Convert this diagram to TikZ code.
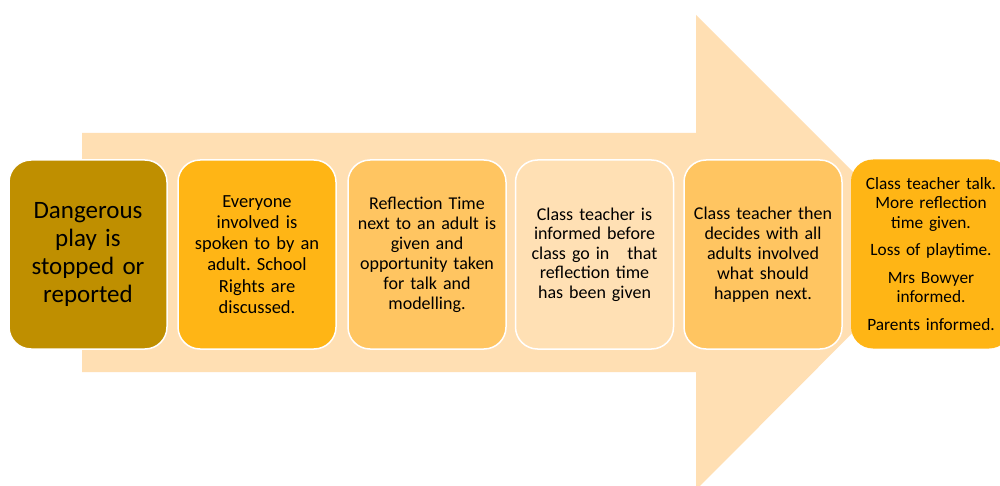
\documentclass[tikz,border=0pt]{standalone}
\usepackage{fontspec}
\setmainfont{Carlito}
\frenchspacing
\definecolor{arrowc}{HTML}{FFDFB3}
\definecolor{c1}{HTML}{BF8F00}
\definecolor{c2}{HTML}{FFB515}
\definecolor{c3}{HTML}{FFC561}
\definecolor{c4}{HTML}{FFE0B4}
\tikzset{
  stepbox/.style={draw=white, line width=1.5pt, rounded corners=22pt, minimum width=158pt, minimum height=189pt, align=center, text width=156pt, inner sep=0pt},
}
\begin{document}
\begin{tikzpicture}[x=1pt,y=-1pt]
\useasboundingbox (0,0) rectangle (1000,486);
\clip (0,0) rectangle (1000,486);
\fill[white] (0,0) rectangle (1000,486);
% big arrow
\fill[arrowc] (82,133) -- (696,133) -- (696,15) -- (933,252) -- (696,490) -- (696,372) -- (82,372) -- cycle;
\node[stepbox, fill=c1, font=\fontsize{25}{27.7}\selectfont] (b1) at (88,254.5) {Dangerous\\play is\\stopped or\\reported};
\node[stepbox, fill=c2, font=\fontsize{18.5}{21.2}\selectfont] (b2) at (257,254.5) {Everyone\\involved is\\spoken to by an\\adult. School\\Rights are\\discussed.};
\node[stepbox, fill=c3, font=\fontsize{18}{20}\selectfont] (b3) at (427,254.5) {Reflection Time\\next to an adult is\\given and\\opportunity taken\\for talk and\\modelling.};
\node[stepbox, fill=c4, font=\fontsize{18}{19.5}\selectfont] (b4) at (594.5,254.5) {Class teacher is\\informed before\\class go in\quad that\\reflection time\\has been given};
\node[stepbox, fill=c3, font=\fontsize{18}{20}\selectfont] (b5) at (763,254.5) {Class teacher then\\decides with all\\adults involved\\what should\\happen next.};
\node[stepbox, draw=none, fill=c2, minimum width=160pt, text width=160pt, font=\fontsize{17.3}{19.5}\selectfont] (b6) at (931,254) {Class teacher talk.\\More reflection\\time given.\\[8pt]Loss of playtime.\\[8pt]Mrs Bowyer\\informed.\\[8pt]Parents informed.};
\end{tikzpicture}
\end{document}
